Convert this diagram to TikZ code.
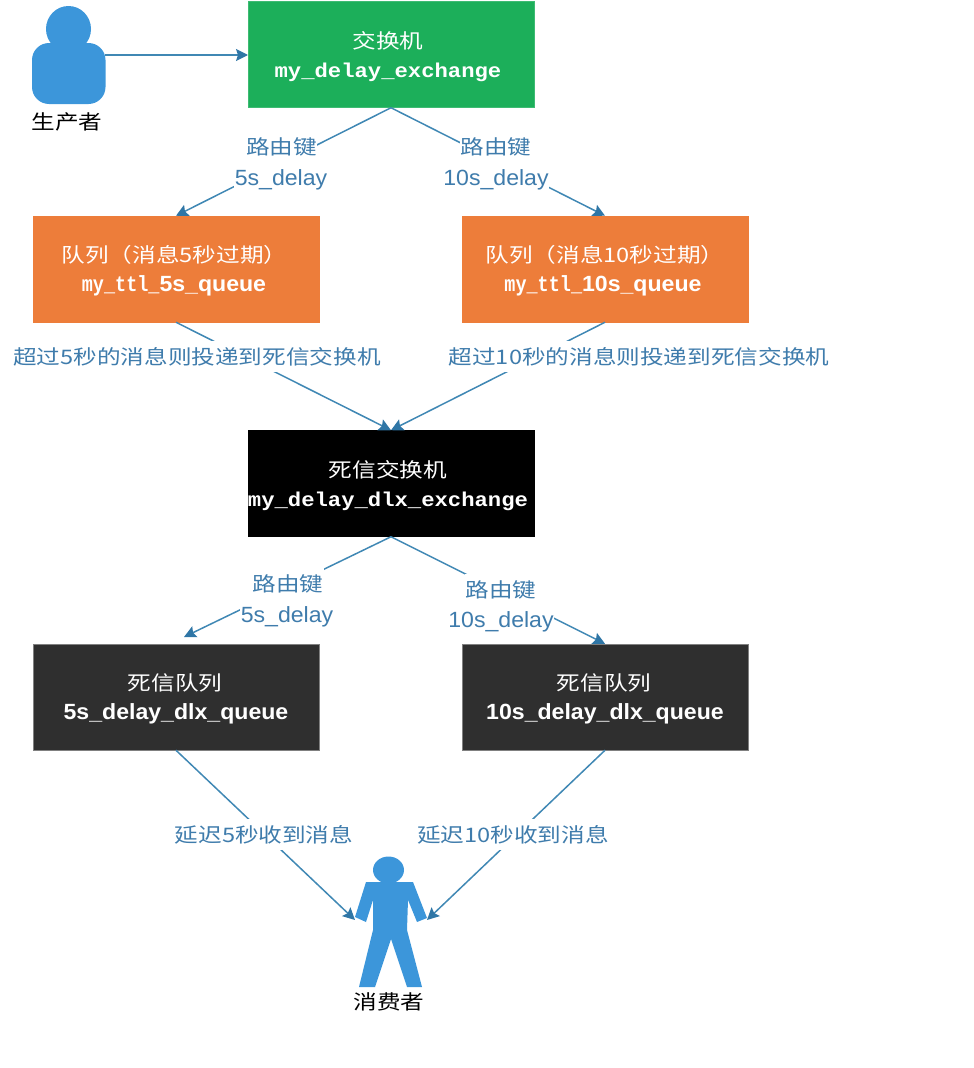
\documentclass[tikz,border=0pt]{standalone}
\usepackage{fontspec}
\setmainfont[FakeStretch=1.05]{Liberation Sans}
\newfontfamily\cjk[FakeStretch=1.18,Scale=0.91]{Noto Sans CJK SC}
\newfontfamily\monob[FakeStretch=1.11,Scale=0.91,BoldFont={Liberation Mono Bold}]{Liberation Mono}
\newfontfamily\monoc[FakeStretch=0.84,BoldFont={Liberation Mono Bold}]{Liberation Mono}
\definecolor{edgeblue}{HTML}{4088B4}
\definecolor{tipblue}{HTML}{2F76A6}
\definecolor{labelblue}{HTML}{3F7CAC}
\definecolor{person}{HTML}{3C96DA}
\definecolor{grn}{HTML}{1CAF5A}
\definecolor{org}{HTML}{ED7D3A}
\definecolor{dk}{HTML}{2F2F2F}
\usetikzlibrary{arrows.meta}
\tikzset{
  box/.style={minimum width=285.5pt,minimum height=106pt,inner sep=0pt,text=white,align=center,
    font=\fontsize{22}{29}\selectfont,line width=0.5pt},
  conn/.style={draw=edgeblue,line width=1.5pt,-{Stealth[length=12pt,width=12pt,inset=2pt,color=tipblue]}},
  lab/.style={fill=white,inner xsep=0.5pt,inner ysep=0pt,minimum height=31pt,text=labelblue,font=\fontsize{22}{29}\selectfont},
  labb/.style={lab,minimum height=37pt},
  plab/.style={text=black,font=\fontsize{22}{24}\selectfont\cjk,inner sep=0pt}
}
\newcommand{\mbx}[1]{{\monob\bfseries #1}}
\newcommand{\mcx}[1]{{\monoc\bfseries #1}}
\newcommand{\sbx}[1]{{\bfseries #1}}
\newcommand{\topr}{\rule{0pt}{21.5pt}}
\begin{document}
\begin{tikzpicture}[x=1pt,y=-1pt]
\useasboundingbox (0,0) rectangle (974,1068);
% producer
\fill[person] (68.5,29) ellipse [x radius=22.5,y radius=23];
\fill[person,rounded corners=17pt] (32,43) rectangle (105.5,104);
\coordinate (prod) at (105,55);
\node[plab] (prodl) at (67,122) {生产者};
% boxes
\node[box,fill=grn,draw=grn!85!white] (ex) at (391,54.5) {\topr{\cjk 交换机}\hspace*{6pt}\\\mbx{my\_delay\_exchange}\hspace*{6pt}};
\node[box,fill=org,draw=org] (q5) at (176,269) {\topr{\cjk 队列（消息5秒过期）}\hspace*{3pt}\\\mcx{my\_ttl\_}\sbx{5s\_queue}\hspace*{4pt}};
\node[box,fill=org,draw=org] (q10) at (605,269) {\topr{\cjk 队列（消息10秒过期）}\\\mcx{my\_ttl\_}\sbx{10s\_queue}\hspace*{4pt}};
\node[box,fill=black,draw=black] (dlx) at (391,483.5) {\topr{\cjk 死信交换机}\hspace*{6pt}\\\mbx{my\_delay\_dlx\_exchange}\hspace*{6pt}};
\node[box,fill=dk,draw=gray] (d5) at (176,697) {\topr{\cjk 死信队列}\hspace*{2pt}\\\sbx{5s\_delay\_dlx\_queue}};
\node[box,fill=dk,draw=gray] (d10) at (605,697) {\topr{\cjk 死信队列}\hspace*{2pt}\\\sbx{10s\_delay\_dlx\_queue}};
% consumer
\fill[person] (388.5,870) ellipse [x radius=15.5,y radius=13.5];
\fill[person] (366,882) -- (413,882) -- (427,918) -- (417,922) -- (408,900) -- (407,930) -- (422,987) -- (407,987) -- (391,939) -- (375,987) -- (359,987) -- (373,930) -- (373,900) -- (366,922) -- (355,917) -- cycle;
\coordinate (consL) at (355,920);
\coordinate (consR) at (427,920);
\node[plab] (consl) at (389,1002) {消费者};
% connectors
\coordinate (d5top) at (184,637);
\draw[conn] (prod) -- (ex.west |- prod);
\draw[conn] (ex.south) -- (q5.north);
\draw[conn] (ex.south) -- (q10.north);
\draw[conn] (q5.south) -- (dlx.north);
\draw[conn] (q10.south) -- (dlx.north);
\draw[conn] (dlx.south) -- (d5top);
\draw[conn] (dlx.south) -- (d10.north);
\draw[conn] (d5.south) -- (consL);
\draw[conn] (d10.south) -- (consR);
% labels
\node[labb] (l1b) at (281,179.5) {5s\_delay};
\node[labb] (l2b) at (496,179.5) {10s\_delay};
\node[labb] (l5b) at (287,616.5) {5s\_delay};
\node[labb] (l6b) at (501,621.5) {10s\_delay};
\node[lab] (l1a) at (281.5,146.5) {\cjk 路由键};
\node[lab] (l2a) at (496,146.5) {\cjk 路由键};
\node[lab] (l5a) at (288,583.5) {\cjk 路由键};
\node[lab] (l6a) at (501,589.5) {\cjk 路由键};
\node[lab] (l3) at (197,356.5) {\cjk 超过5秒的消息则投递到死信交换机};
\node[lab] (l4) at (639,356.5) {\cjk 超过10秒的消息则投递到死信交换机};
\node[lab] (l7) at (264,834.5) {\cjk 延迟5秒收到消息};
\node[lab] (l8) at (513,834.5) {\cjk 延迟10秒收到消息};
\end{tikzpicture}
\end{document}
